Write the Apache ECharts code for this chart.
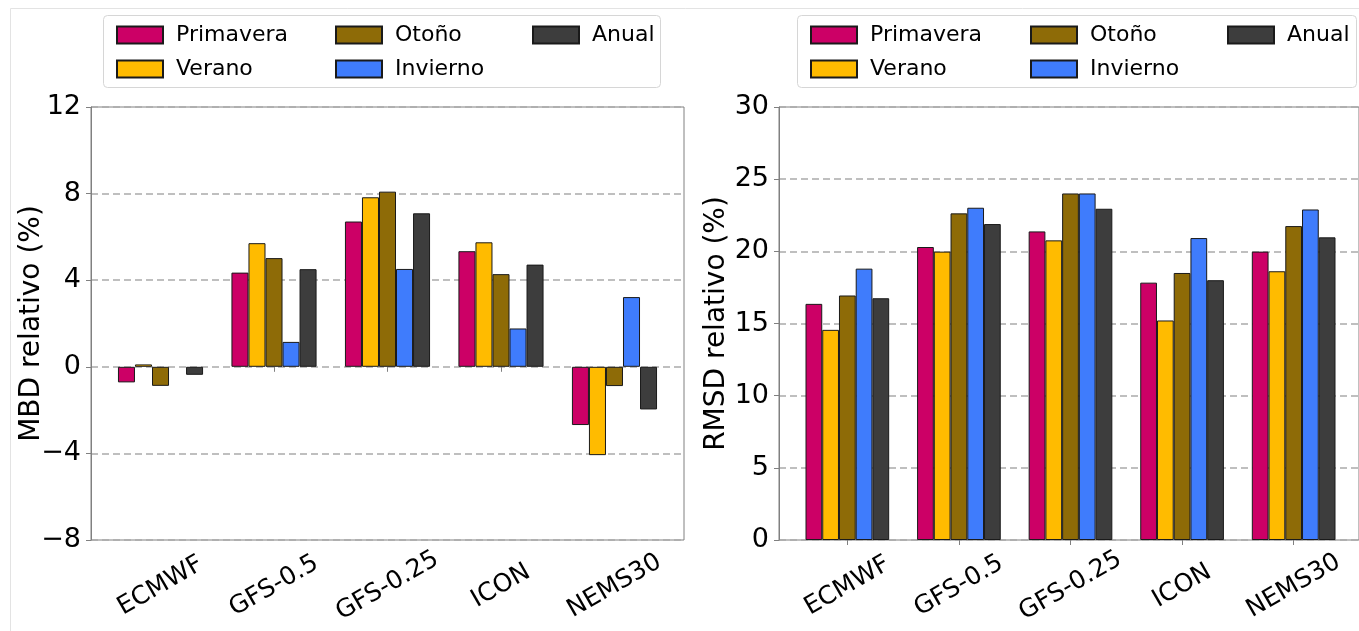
<!DOCTYPE html>
<html><head><meta charset="utf-8">
<script src="https://cdn.jsdelivr.net/npm/echarts@6/dist/echarts.min.js"></script>
<style>html,body{margin:0;padding:0;background:#fff}#c{width:1359px;height:631px}</style>
</head><body><div id="c"></div>
<script>
const categories = ['ECMWF', 'GFS-0.5', 'GFS-0.25', 'ICON', 'NEMS30'];
const seasons = ['Primavera', 'Verano', 'Otoño', 'Invierno', 'Anual'];
const colors = ['#cc0066', '#ffbb00', '#8e6b07', '#3f7cfc', '#3d3d3d'];
// MBD relativo (%)
const mbdPrimavera = [-0.72, 4.35, 6.71, 5.34, -2.69];
const mbdVerano    = [0.11, 5.71, 7.83, 5.75, -4.08];
const mbdOtono     = [-0.88, 5.02, 8.09, 4.28, -0.89];
const mbdInvierno  = [0.0, 1.15, 4.52, 1.77, 3.22];
const mbdAnual     = [-0.37, 4.51, 7.09, 4.72, -1.97];
// RMSD relativo (%)
const rmsdPrimavera = [16.36, 20.30, 21.38, 17.83, 19.98];
const rmsdVerano    = [14.56, 19.98, 20.76, 15.21, 18.62];
const rmsdOtono     = [16.94, 22.63, 24.01, 18.50, 21.75];
const rmsdInvierno  = [18.80, 23.02, 24.01, 20.92, 22.90];
const rmsdAnual     = [16.75, 21.89, 22.95, 18.00, 20.97];

const mbd = [mbdPrimavera, mbdVerano, mbdOtono, mbdInvierno, mbdAnual];
const rmsd = [rmsdPrimavera, rmsdVerano, rmsdOtono, rmsdInvierno, rmsdAnual];

const FONT = 'DejaVu Sans';
const PLOT_TOP = 107, PLOT_H = 433;
const L = {left: 91, width: 593};
const R = {left: 779, width: 583};
function inner(o) { const band = o.width / 5.225; return {left: o.left + 0.1125 * band, width: band * 5}; }
const Li = inner(L), Ri = inner(R);

const minus = v => String(v).replace('-', '\u2212');
const toData = arr => arr.map(v => v === 0 ? {value: 0, itemStyle: {borderWidth: 0}} : v);

function yAxisVisible(gi, min, max, interval, name, gap) {
  return {
    gridIndex: gi, type: 'value', min, max, interval,
    name, nameLocation: 'middle', nameGap: gap, nameMoveOverlap: false,
    nameTextStyle: {fontFamily: FONT, fontSize: 28, color: '#000'},
    axisLine: {show: true, lineStyle: {color: '#808080', width: 1}},
    axisTick: {show: true, length: 5, lineStyle: {color: '#808080'}},
    axisLabel: {fontFamily: FONT, fontSize: 27, color: '#000', margin: 10, formatter: minus},
    splitLine: {show: true, lineStyle: {color: '#ababab', type: [7, 4], width: 1.5}}
  };
}
function yAxisHidden(gi, min, max) {
  return {gridIndex: gi, type: 'value', min, max, show: false, splitLine: {show: false}};
}
function xAxisCat(gi) {
  return {
    gridIndex: gi, type: 'category', data: categories,
    axisLine: {show: false},
    axisTick: {show: true, alignWithLabel: true, length: 5, lineStyle: {color: '#808080'}},
    axisLabel: {fontFamily: FONT, fontSize: 25, color: '#000', rotate: 30, margin: 46,
      align: 'center', verticalAlign: 'middle', interval: 0},
    splitLine: {show: false}
  };
}

const series = [];
seasons.forEach((s, i) => {
  series.push({name: s, type: 'bar', xAxisIndex: 1, yAxisIndex: 1, data: toData(mbd[i]),
    barWidth: '15%', barGap: '0%',
    itemStyle: {color: colors[i], borderColor: '#1a1a1a', borderWidth: 1}});
  series.push({name: s, type: 'bar', xAxisIndex: 3, yAxisIndex: 3, data: toData(rmsd[i]),
    barWidth: '15%', barGap: '0%',
    itemStyle: {color: colors[i], borderColor: '#1a1a1a', borderWidth: 1}});
});

function legendCol(left, data) {
  return {
    orient: 'vertical', left, top: 19, itemWidth: 46, itemHeight: 17, itemGap: 12,
    icon: 'rect', data, selectedMode: false,
    textStyle: {fontFamily: FONT, fontSize: 22, color: '#000', lineHeight: 21, padding: [0, 0, 0, 8]}
  };
}

const chart = echarts.init(document.getElementById('c'), null, {renderer: 'canvas'});
chart.setOption({
  backgroundColor: '#fff',
  animation: false,
  grid: [
    {left: L.left, top: PLOT_TOP, width: L.width, height: PLOT_H, show: true, borderColor: '#808080', borderWidth: 1, containLabel: false},
    {left: Li.left, top: PLOT_TOP, width: Li.width, height: PLOT_H},
    {left: R.left, top: PLOT_TOP, width: R.width, height: PLOT_H, show: true, borderColor: '#808080', borderWidth: 1},
    {left: Ri.left, top: PLOT_TOP, width: Ri.width, height: PLOT_H}
  ],
  xAxis: [
    {gridIndex: 0, type: 'value', min: 0, max: 1, show: false},
    xAxisCat(1),
    {gridIndex: 2, type: 'value', min: 0, max: 1, show: false},
    xAxisCat(3)
  ],
  yAxis: [
    yAxisVisible(0, -8, 12, 4, 'MBD relativo (%)', 45),
    yAxisHidden(1, -8, 12),
    yAxisVisible(2, 0, 30, 5, 'RMSD relativo (%)', 48),
    yAxisHidden(3, 0, 30)
  ],
  legend: [
    legendCol(111, ['Primavera', 'Verano']),
    legendCol(330, ['Otoño', 'Invierno']),
    legendCol(527, ['Anual']),
    legendCol(805, ['Primavera', 'Verano']),
    legendCol(1025, ['Otoño', 'Invierno']),
    legendCol(1222, ['Anual'])
  ],
  graphic: [
    {type: 'rect', z: -10, silent: true, shape: {x: 10.5, y: 8.5, width: 1400, height: 700},
      style: {fill: 'none', stroke: '#e3e3e3', lineWidth: 1}},
    {type: 'rect', z: -1, silent: true, shape: {x: 103.5, y: 15.5, width: 557, height: 72, r: 4},
      style: {fill: '#fff', stroke: '#d6d6d6', lineWidth: 1}},
    {type: 'rect', z: -1, silent: true, shape: {x: 797.5, y: 15.5, width: 559, height: 72, r: 4},
      style: {fill: '#fff', stroke: '#d6d6d6', lineWidth: 1}}
  ],
  series
});
</script></body></html>
